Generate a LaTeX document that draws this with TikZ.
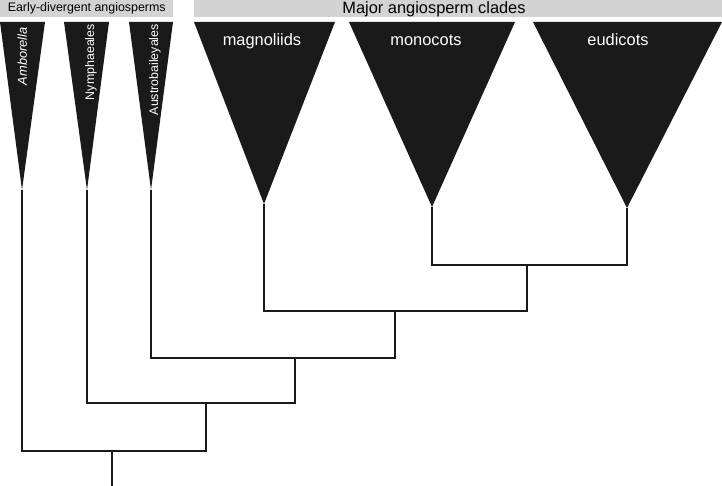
\documentclass[tikz,border=0pt]{standalone}
\usepackage{fontspec}
\setmainfont{Liberation Sans}
\usepackage{tikz}
\usetikzlibrary{arrows,calc,positioning}

\definecolor{bargray}{RGB}{211,211,211}
\definecolor{cladeblack}{RGB}{26,26,26}

\begin{document}
\begin{tikzpicture}[x=1pt,y=-1pt]
	\tikzstyle{bar} = [fill=bargray, inner sep=0pt, anchor=north west, minimum height=17pt]
	\tikzstyle{clade} = [fill=cladeblack]
	\tikzstyle{branch} = [draw=cladeblack, line width=2.2pt]
	\tikzstyle{small} = [font=\fontsize{12.4}{14}\selectfont]
	\tikzstyle{big} = [font=\fontsize{16.4}{18}\selectfont]
	\tikzstyle{vlabel} = [small, text=white, rotate=90, anchor=base east, inner sep=0pt]
	\tikzstyle{hlabel} = [big, text=white, anchor=base, inner sep=0pt]
	
	\useasboundingbox (0,0) rectangle (722,486);
	
	% header bars
	\node [bar, small, minimum width=173pt] (earlybar) at (0,0) {Early-divergent angiosperms};
	\node [bar, minimum width=528pt] (majorbar) at (194,0) {};
	\node [big, inner sep=0pt] (majorlabel) at (434,9) {Major angiosperm clades};
	
	% apex of each clade
	\coordinate (amb) at (22,190);
	\coordinate (nym) at (87,190);
	\coordinate (aus) at (151,190);
	\coordinate (mag) at (264,204);
	\coordinate (mono) at (432,207);
	\coordinate (eudi) at (627,208);
	
	\fill [clade] (0,22) -- (45,22) -- (amb) -- cycle;
	\fill [clade] (64,22) -- (109,22) -- (nym) -- cycle;
	\fill [clade] (129,22) -- (173,22) -- (aus) -- cycle;
	\fill [clade] (194,22) -- (335,22) -- (mag) -- cycle;
	\fill [clade] (349,22) -- (515,22) -- (mono) -- cycle;
	\fill [clade] (533,22) -- (722,22) -- (eudi) -- cycle;
	
	\node [vlabel, font=\fontsize{12.9}{14}\selectfont\itshape] (amblabel) at (27,27) {Amborella};
	\node [vlabel] (nymlabel) at (94,24) {Nymphaeales};
	\node [vlabel] (auslabel) at (158,24) {Austrobaileyales};
	\node [hlabel] (maglabel) at (262,46) {magnoliids};
	\node [hlabel] (monolabel) at (426,46) {monocots};
	\node [hlabel] (eudilabel) at (618,46) {eudicots};
	
	% internal nodes
	\coordinate (j1) at (527,265);
	\coordinate (j2) at (395,311);
	\coordinate (j3) at (295,358);
	\coordinate (j4) at (206,403);
	\coordinate (j5) at (112,451);
	\coordinate (root) at (112,486);
	
	\draw [branch] (mono) |- (j1) -| (eudi);
	\draw [branch] (mag) |- (j2);
	\draw [branch] (j1) |- (j2);
	\draw [branch] (aus) |- (j3);
	\draw [branch] (j2) |- (j3);
	\draw [branch] (nym) |- (j4);
	\draw [branch] (j3) |- (j4);
	\draw [branch] (amb) |- (j5);
	\draw [branch] (j4) |- (j5);
	\draw [branch] (j5) -- (root);
	
\end{tikzpicture}
\end{document}
